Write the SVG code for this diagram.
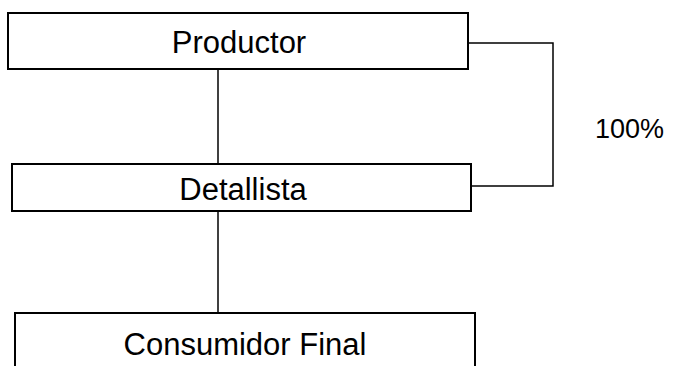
<svg xmlns="http://www.w3.org/2000/svg" width="679" height="366" viewBox="0 0 679 366">
<style>
.box{fill:#fff;stroke:#000;stroke-width:2}
.lbl{font-family:"Liberation Sans",Arial,sans-serif;font-size:31px;fill:#000;text-anchor:middle}
.conn{fill:none;stroke:#000;stroke-width:1.5}
</style>
<rect width="679" height="366" fill="#fff"/>
<g id="connectors">
<line class="conn" x1="218" y1="69" x2="218" y2="164"/>
<line class="conn" x1="218" y1="211" x2="218" y2="313"/>
<polyline class="conn" points="468,43 553,43 553,186 471,186"/>
</g>
<g id="productor">
<rect class="box" x="8" y="13" width="460" height="56"/>
<text class="lbl" x="239" y="53">Productor</text>
</g>
<g id="detallista">
<rect class="box" x="12" y="164" width="459" height="47"/>
<text class="lbl" x="243" y="200">Detallista</text>
</g>
<g id="consumidor">
<rect class="box" x="15" y="313" width="460" height="70"/>
<text class="lbl" x="245" y="355">Consumidor Final</text>
</g>
<text id="pct" x="595" y="138" style="font-family:'Liberation Sans',Arial,sans-serif;font-size:27px;fill:#000">100%</text>
</svg>
